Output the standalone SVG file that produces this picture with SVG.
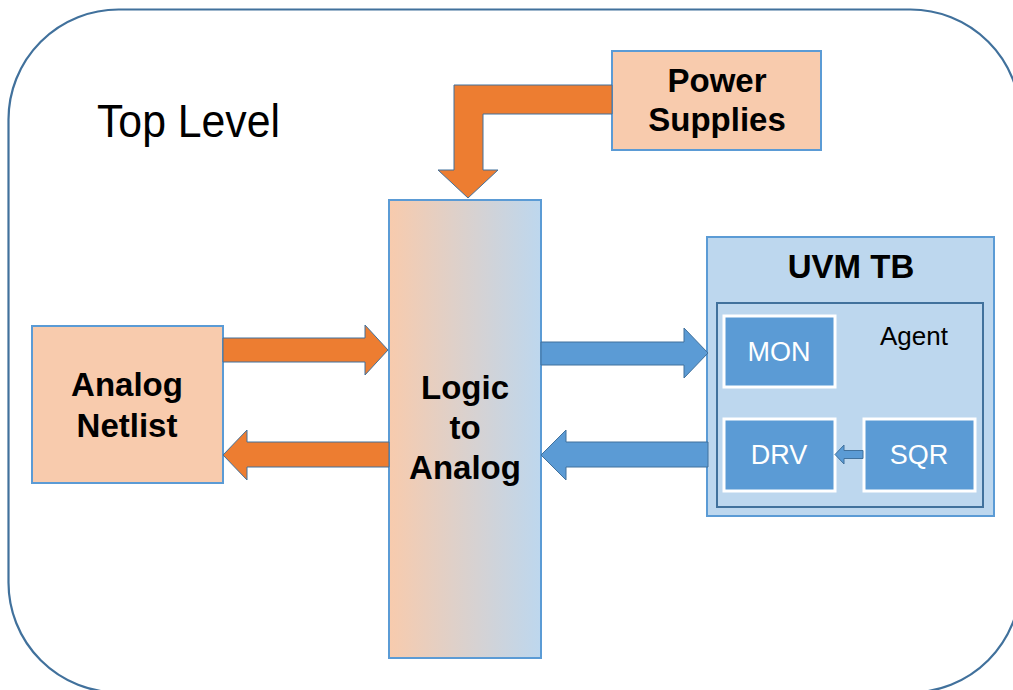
<svg xmlns="http://www.w3.org/2000/svg" width="1013" height="690" viewBox="0 0 1013 690">
  <defs>
    <linearGradient id="logicFill" x1="0" y1="0" x2="1" y2="0">
      <stop offset="0" stop-color="#F8CBAD"/>
      <stop offset="1" stop-color="#BDD7EE"/>
    </linearGradient>
    <style>
      .frame { fill: #FFFFFF; stroke: #41719C; stroke-width: 2.2; }
      .peach { fill: #F8CBAD; stroke: #5B9BD5; stroke-width: 2; }
      .pale { fill: #BDD7EE; stroke: #5B9BD5; stroke-width: 2; }
      .agent { fill: #BDD7EE; stroke: #41719C; stroke-width: 2; }
      .comp { fill: #5B9BD5; stroke: #FFFFFF; stroke-width: 3; }
      .orange { fill: #ED7D31; stroke: #41719C; stroke-width: 1; stroke-linejoin: miter; }
      .blue { fill: #5B9BD5; stroke: #41719C; stroke-width: 1; stroke-linejoin: miter; }
      .bold { font-family: "Liberation Sans", Arial, sans-serif; font-weight: bold; font-size: 33px; fill: #000000; text-anchor: middle; }
      .plain { font-family: "Liberation Sans", Arial, sans-serif; fill: #000000; }
      .wlabel { font-family: "Liberation Sans", Arial, sans-serif; font-size: 27px; fill: #FFFFFF; text-anchor: middle; }
    </style>
  </defs>

  <!-- top-level frame -->
  <g id="top-level">
    <rect class="frame" x="8.5" y="9.5" width="1012" height="683" rx="110" ry="110"/>
    <text class="plain" x="97" y="137" font-size="46" textLength="183" lengthAdjust="spacingAndGlyphs">Top Level</text>
  </g>

  <g id="power-supplies">
    <rect class="peach" x="612" y="51" width="209" height="99"/>
    <text class="bold" x="717" y="92">Power</text>
    <text class="bold" x="717" y="131">Supplies</text>
  </g>

  <g id="logic-to-analog">
    <rect x="389" y="200" width="152" height="458" fill="url(#logicFill)" stroke="#5B9BD5" stroke-width="2"/>
    <text class="bold" x="465" y="399">Logic</text>
    <text class="bold" x="465" y="439">to</text>
    <text class="bold" x="465" y="479">Analog</text>
  </g>

  <g id="analog-netlist">
    <rect class="peach" x="32" y="326" width="191" height="157"/>
    <text class="bold" x="127" y="396">Analog</text>
    <text class="bold" x="127" y="437">Netlist</text>
  </g>

  <g id="uvm-tb">
    <rect class="pale" x="707" y="237" width="287" height="279"/>
    <text class="bold" x="851" y="278" font-size="31">UVM TB</text>
  </g>

  <g id="agent">
    <rect class="agent" x="717" y="303" width="266" height="204"/>
    <text class="plain" x="880" y="345" font-size="26">Agent</text>
  </g>

  <g id="mon">
    <rect class="comp" x="724" y="316" width="111" height="71"/>
    <text class="wlabel" x="779" y="361">MON</text>
  </g>

  <g id="drv">
    <rect class="comp" x="724" y="419" width="111" height="72"/>
    <text class="wlabel" x="779" y="464">DRV</text>
  </g>

  <g id="sqr">
    <rect class="comp" x="864" y="419" width="111" height="72"/>
    <text class="wlabel" x="919" y="464">SQR</text>
  </g>

  <!-- connectors -->
  <g id="connectors">
    <!-- power feed into the logic block -->
    <path class="orange" d="M612,85 L454,85 L454,170 L438,170 L468,198 L498,170 L483,170 L483,114 L612,114 Z"/>
    <!-- netlist to logic -->
    <path class="orange" d="M223,338 L365,338 L365,325 L388,350 L365,375 L365,362 L223,362 Z"/>
    <!-- logic to netlist -->
    <path class="orange" d="M389,442 L247,442 L247,430 L223,455 L247,480 L247,467 L389,467 Z"/>
    <!-- logic to testbench -->
    <path class="blue" d="M541,342 L684,342 L684,328 L708,353 L684,378 L684,365 L541,365 Z"/>
    <!-- testbench to logic -->
    <path class="blue" d="M708,442 L566,442 L566,430 L541,455 L566,480 L566,467 L708,467 Z"/>
    <!-- sequencer to driver -->
    <path class="blue" d="M863,450.5 L844,450.5 L844,445 L835,454.5 L844,464 L844,458.5 L863,458.5 Z"/>
  </g>
</svg>
